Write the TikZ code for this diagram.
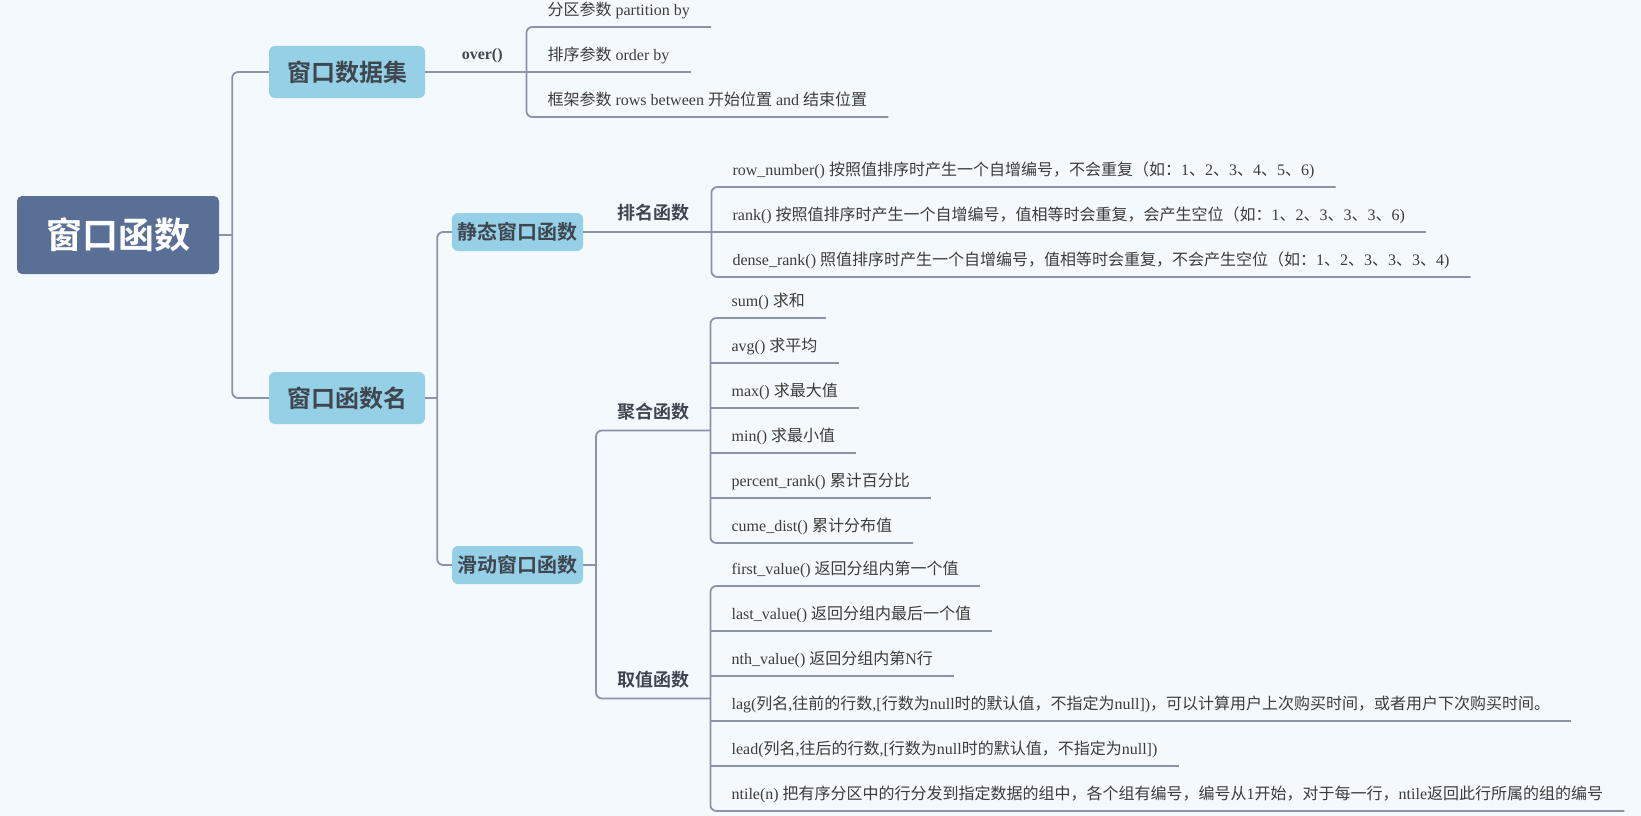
\documentclass[tikz,border=0pt]{standalone}
\usepackage{fontspec}
\setmainfont{Liberation Serif}
\newfontfamily\cjk{Noto Sans CJK SC}[BoldFont={Noto Sans CJK SC Bold}]
\usetikzlibrary{calc}
\definecolor{Bg}{HTML}{F4F9FD}
\definecolor{Wire}{HTML}{8A94A6}
\definecolor{Slate}{HTML}{5A6F96}
\definecolor{Sky}{HTML}{95D0E6}
\definecolor{Ink}{HTML}{3F4650}
\definecolor{Txt}{HTML}{3C3C3C}

% chinese runs switch to the cjk font by themselves
\XeTeXinterchartokenstate=1
\newXeTeXintercharclass\zhclass
\newcount\zhc
\def\zhrange#1#2{\zhc=#1\relax
  \loop\XeTeXcharclass\zhc=\zhclass\ifnum\zhc<#2\advance\zhc by 1\repeat}
\zhrange{"4E00}{"9FFF}
\zhrange{"3000}{"303F}
\zhrange{"FF00}{"FFEF}
\XeTeXinterchartoks 0 \zhclass = {\begingroup\cjk}
\XeTeXinterchartoks 4095 \zhclass = {\begingroup\cjk}
\XeTeXinterchartoks \zhclass 0 = {\endgroup}
\XeTeXinterchartoks \zhclass 4095 = {\endgroup}

\begin{document}
\begin{tikzpicture}[x=1pt,y=-1pt,
    wire/.style={draw=Wire,line width=1.8pt},
    rootbox/.style={rounded corners=5pt,fill=Slate,text=white,minimum width=202pt,
      minimum height=78pt,inner sep=0pt,font=\cjk\bfseries\fontsize{36}{40}\selectfont},
    topbox/.style={rounded corners=6pt,fill=Sky,text=Ink,minimum width=156pt,
      minimum height=52pt,inner sep=0pt,font=\cjk\bfseries\fontsize{24}{28}\selectfont},
    subbox/.style={rounded corners=6pt,fill=Sky,text=Ink,minimum width=131pt,
      minimum height=38pt,inner sep=0pt,font=\cjk\bfseries\fontsize{20}{24}\selectfont},
    grp/.style={anchor=south west,minimum width=114pt,inner xsep=0pt,inner ysep=8pt,
      text height=13pt,text depth=4pt,text=Ink,font=\cjk\bfseries\fontsize{18}{20}\selectfont},
    leaf/.style={anchor=south west,inner xsep=21pt,inner ysep=7pt,text height=12pt,
      text depth=4pt,text=Txt,font=\fontsize{16}{18}\selectfont}
  ]
    \useasboundingbox (0,0) rectangle (1641,816);
    \fill[Bg] (0,0) rectangle (1641,816);

    \node[rootbox] (root) at (118,235) {窗口函数};
    \node[topbox] (data) at (347,72) {窗口数据集};
    \node[topbox] (name) at (347,398) {窗口函数名};
    \node[subbox] (static) at (517.5,232) {静态窗口函数};
    \node[subbox] (slide) at (517.5,565) {滑动窗口函数};

    \draw[wire] (root.east) -- ++(13,0);
    \draw[wire,rounded corners=6pt] (data.west) -| ($(root.east)+(13,0)$) |- (name.west);
    \draw[wire] (name.east) -- ++(12,0);
    \draw[wire,rounded corners=6pt] (static.west) -| ($(name.east)+(12,0)$) |- (slide.west);

    % over()
    \node[grp,minimum width=88pt,font=\bfseries\fontsize{16}{18}\selectfont] (over) at (438,72) {over()};
    \draw[wire] (data.east) -- (over.south east);
    \foreach \txt [count=\i] in {分区参数 partition by,排序参数 order by,
        框架参数 rows between 开始位置 and 结束位置}
      \node[leaf] (over\i) at ($(over.south east)+(0,45*\i-90)$) {\txt};
    \draw[wire,rounded corners=6pt] (over1.south east) -- (over1.south west) -- (over3.south west) -- (over3.south east);
    \draw[wire] (over2.south west) -- (over2.south east);

    % static
    \node[grp,minimum width=115pt] (rank) at (596,232) {排名函数};
    \draw[wire] (static.east) -- (rank.south east);
    \foreach \txt [count=\i] in {row\_number() 按照值排序时产生一个自增编号，不会重复（如：1、2、3、4、5、6),
        rank() 按照值排序时产生一个自增编号，值相等时会重复，会产生空位（如：1、2、3、3、3、6),
        dense\_rank() 照值排序时产生一个自增编号，值相等时会重复，不会产生空位（如：1、2、3、3、3、4)}
      \node[leaf] (rank\i) at ($(rank.south east)+(0,45*\i-90)$) {\txt};
    \draw[wire,rounded corners=6pt] (rank1.south east) -- (rank1.south west) -- (rank3.south west) -- (rank3.south east);
    \draw[wire] (rank2.south west) -- (rank2.south east);

    % sliding
    \node[grp] (agg) at (596,430.5) {聚合函数};
    \node[grp] (val) at (596,698.5) {取值函数};
    \draw[wire] (slide.east) -- ++(13,0);
    \draw[wire,rounded corners=6pt] (agg.south east) -- (agg.south west) -- (val.south west) -- (val.south east);

    \foreach \txt [count=\i] in {sum() 求和,avg() 求平均,max() 求最大值,min() 求最小值,
        percent\_rank() 累计百分比,cume\_dist() 累计分布值}
      \node[leaf] (agg\i) at ($(agg.south east)+(0,45*\i-157.5)$) {\txt};
    \draw[wire,rounded corners=6pt] (agg1.south east) -- (agg1.south west) -- (agg6.south west) -- (agg6.south east);
    \foreach \i in {2,...,5} \draw[wire] (agg\i.south west) -- (agg\i.south east);

    \foreach \txt [count=\i] in {first\_value() 返回分组内第一个值,last\_value() 返回分组内最后一个值,
        nth\_value() 返回分组内第N行,
        {lag(列名,往前的行数,[行数为null时的默认值，不指定为null])，可以计算用户上次购买时间，或者用户下次购买时间。},
        {lead(列名,往后的行数,[行数为null时的默认值，不指定为null])},
        ntile(n) 把有序分区中的行分发到指定数据的组中，各个组有编号，编号从1开始，对于每一行，ntile返回此行所属的组的编号}
      \node[leaf] (val\i) at ($(val.south east)+(0,45*\i-157.5)$) {\txt};
    \draw[wire,rounded corners=6pt] (val1.south east) -- (val1.south west) -- (val6.south west) -- (val6.south east);
    \foreach \i in {2,...,5} \draw[wire] (val\i.south west) -- (val\i.south east);
  \end{tikzpicture}
\end{document}
